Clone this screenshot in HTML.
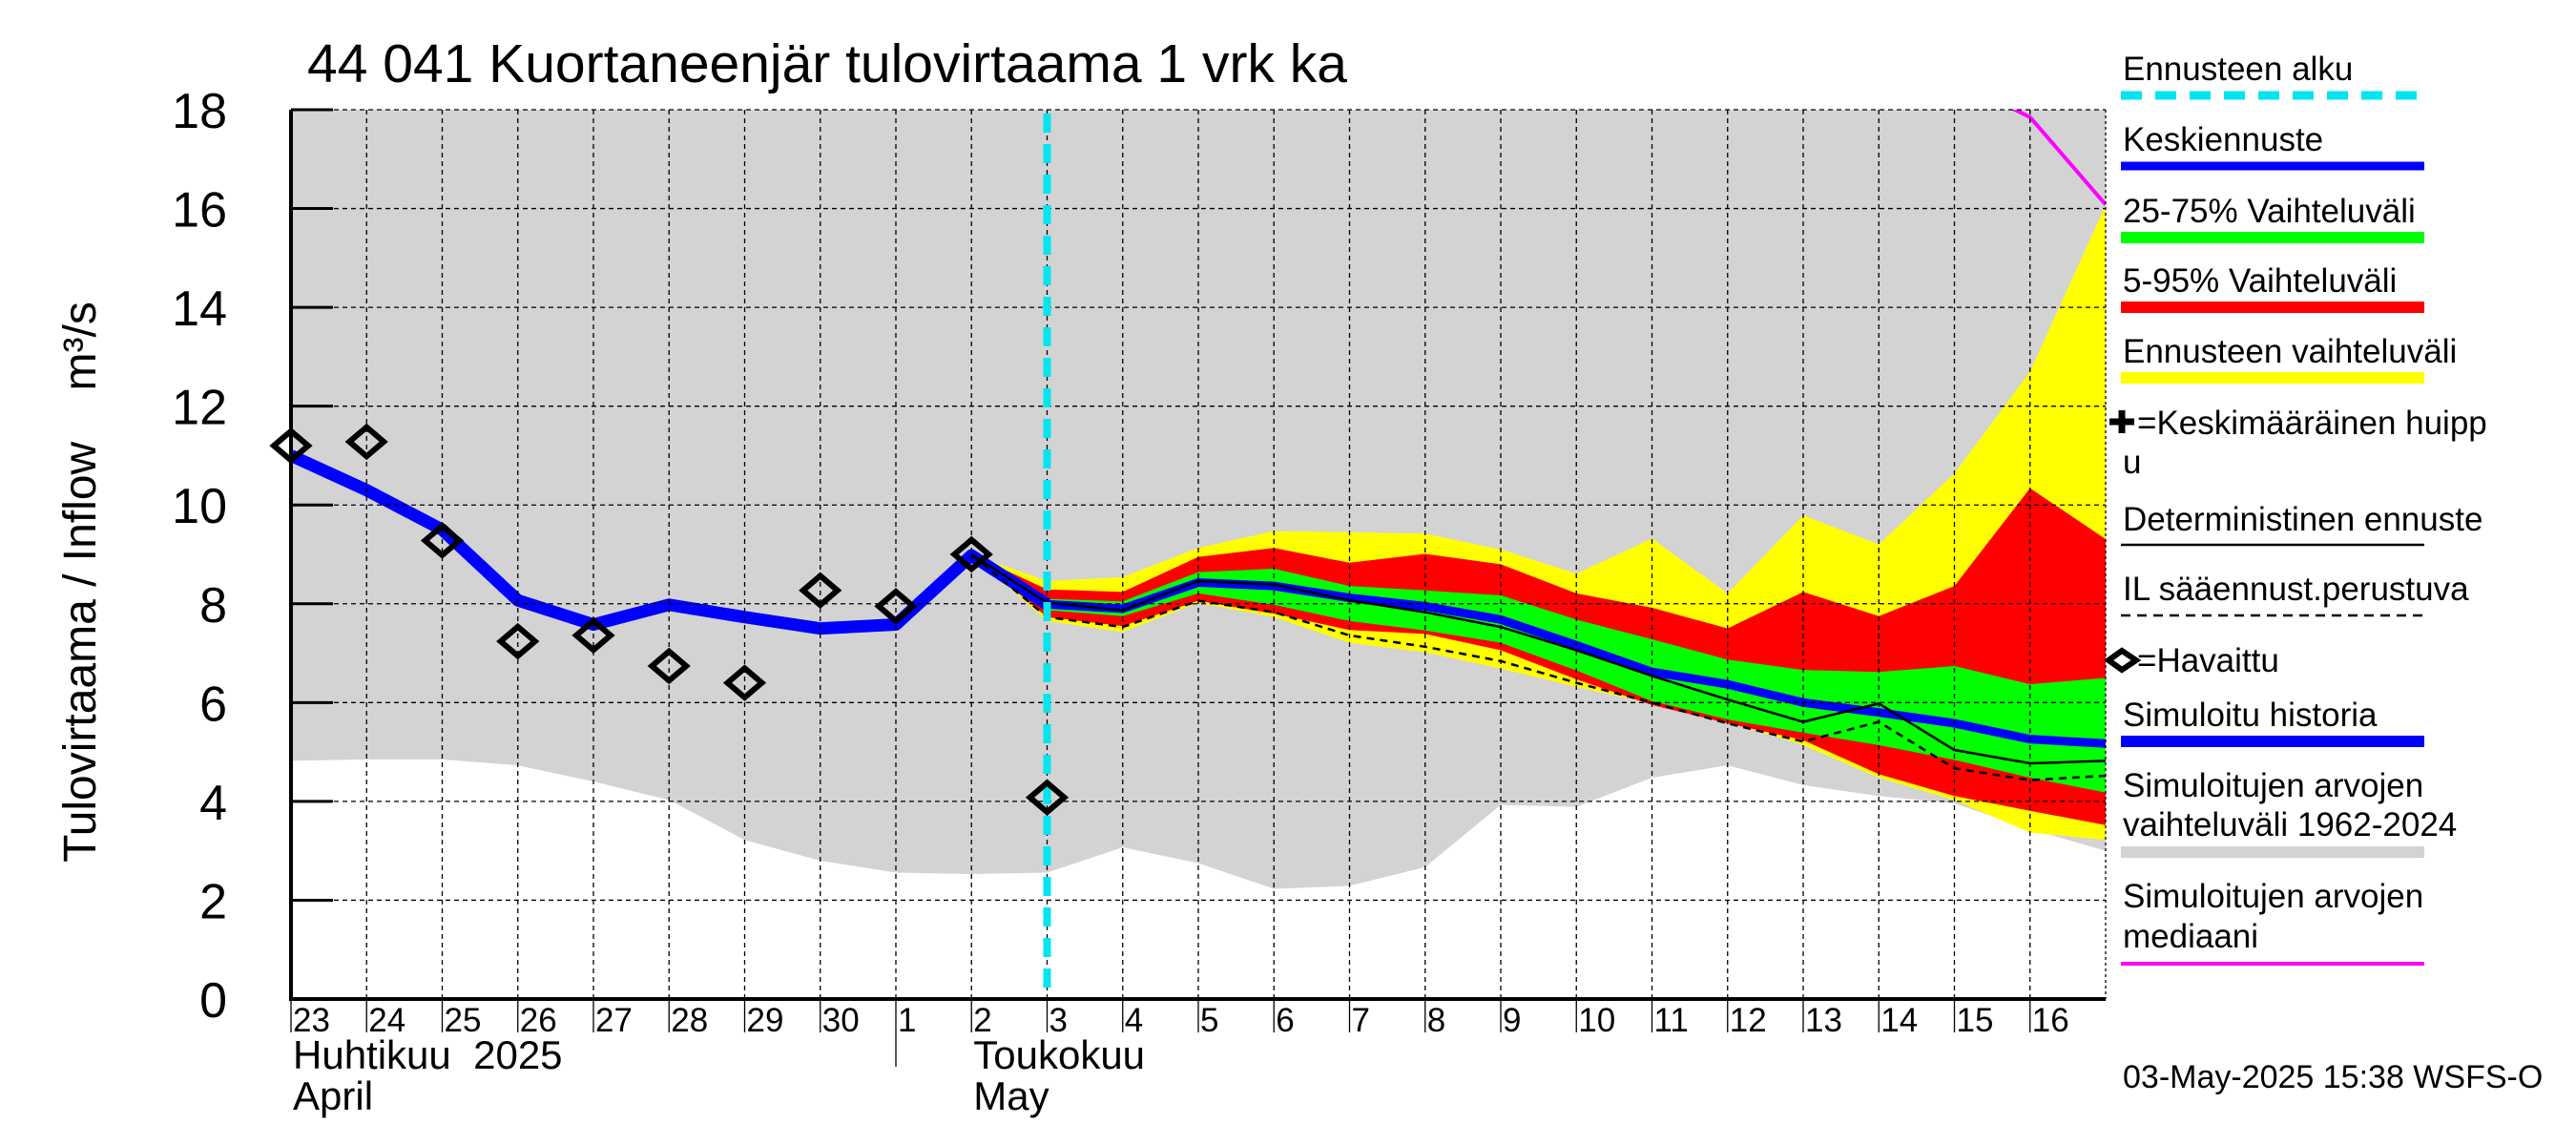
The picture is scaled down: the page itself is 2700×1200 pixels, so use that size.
<!DOCTYPE html>
<html><head><meta charset="utf-8">
<style>
html,body{margin:0;padding:0;background:#fff;}
svg{display:block;font-family:"Liberation Sans",sans-serif;}
</style></head>
<body>
<svg id="chart" xmlns="http://www.w3.org/2000/svg" width="2700" height="1200" viewBox="0 0 2700 1200">
<rect x="0" y="0" width="2700" height="1200" fill="#fff"/>
<g id="plot"></g>
<text x="322" y="86" font-size="57" fill="#000">44 041 Kuortaneenjär tulovirtaama 1 vrk ka</text>
<text transform="translate(100,610) rotate(-90)" text-anchor="middle" font-size="48" fill="#000" xml:space="preserve" style="white-space:pre">Tulovirtaama / Inflow    m³/s</text>
<g id="legend" font-size="35" fill="#000"></g>
<text x="2225" y="1140" font-size="34" fill="#000">03-May-2025 15:38 WSFS-O</text>
</svg>
<script>
// ---- data ----
const dayLabels = ["23","24","25","26","27","28","29","30","1","2","3","4","5","6","7","8","9","10","11","12","13","14","15","16"];
const yTicks = [0,2,4,6,8,10,12,14,16,18];
const simHistory = [11.0,10.3,9.5,8.07,7.58,7.98,7.73,7.5,7.58,8.98,7.99];
const observed = [11.2,11.28,9.28,7.24,7.36,6.74,6.4,8.27,7.95,9.0,4.08];
const histLow = [4.82,4.85,4.85,4.73,4.4,4.03,3.22,2.8,2.56,2.53,2.56,3.07,2.75,2.23,2.29,2.67,3.93,3.89,4.48,4.73,4.33,4.11,3.96,3.44,3.0];
const histHigh = [25,25,25,25,25,25,25,25,25,25,25,25,25,25,25,25,25,25,25,25,25,25,25,25,25];
const median = [22,22,22,22,22,22,22,22,22,22,22,22,22,22,22,22,22,21,21,20,20,19.5,18.6,17.85,16.08];
// forecast from day index 9
const fcStart = 9;
const yellowHi = [9.0,8.46,8.54,9.13,9.47,9.45,9.42,9.1,8.61,9.32,8.21,9.79,9.2,10.64,12.7,16.07];
const redHi    = [9.0,8.29,8.24,8.95,9.13,8.83,9.01,8.8,8.21,7.92,7.5,8.24,7.75,8.36,10.34,9.31];
const greenHi  = [9.0,8.1,8.05,8.64,8.71,8.36,8.27,8.17,7.68,7.28,6.87,6.66,6.62,6.74,6.37,6.5];
const fcMedian = [9.0,7.99,7.9,8.43,8.36,8.12,7.95,7.68,7.16,6.62,6.37,6.0,5.8,5.58,5.26,5.17];
const greenLo  = [9.0,7.87,7.75,8.21,7.98,7.65,7.46,7.21,6.65,6.03,5.66,5.39,5.14,4.84,4.48,4.18];
const redLo    = [9.0,7.73,7.55,8.06,7.8,7.47,7.39,7.06,6.47,5.95,5.58,5.24,4.55,4.11,3.81,3.52];
const yellowLo = [9.0,7.65,7.43,8.02,7.73,7.21,7.02,6.69,6.32,5.98,5.61,5.14,4.48,4.03,3.37,3.22];
const determ   = [9.0,8.02,7.87,8.46,8.39,8.07,7.83,7.53,7.06,6.54,6.06,5.61,5.98,5.04,4.77,4.82];
const ilFc     = [9.0,7.73,7.53,8.06,7.83,7.36,7.13,6.84,6.4,6.0,5.58,5.21,5.61,4.67,4.43,4.52];
const forecastDay = 10;

// ---- axes ----
const X0=305, X1=2207, Y0=1047, Y1=115, NDAYS=24;
const xs = d => X0 + d*(X1-X0)/NDAYS;
const ys = v => Y0 - v*(Y0-Y1)/18;
const NS="http://www.w3.org/2000/svg";
const plot=document.getElementById('plot');
function mk(tag,attrs,parent){const e=document.createElementNS(NS,tag);for(const k in attrs)e.setAttribute(k,attrs[k]);(parent||plot).appendChild(e);return e;}

const defs=mk('defs',{},document.getElementById('chart'));
const cp=mk('clipPath',{id:'clip'},defs);
mk('rect',{x:X0,y:Y1,width:X1-X0,height:Y0-Y1},cp);

const gc=mk('g',{'clip-path':'url(#clip)'});



function bandPath(hi,lo,off){
  let p='';
  hi.forEach((v,i)=>{p+=(i?'L':'M')+xs(i+off)+','+ys(v);});
  for(let i=lo.length-1;i>=0;i--)p+='L'+xs(i+off)+','+ys(lo[i]);
  return p+'Z';
}
function linePath(arr,off){return arr.map((v,i)=>(i?'L':'M')+xs(i+off)+','+ys(v)).join('');}

let e;
e=mk('path',{d:bandPath(histHigh,histLow,0),fill:'#d3d3d3'},gc);



// grid
for(let d=1;d<NDAYS;d++){
  e=mk('line',{x1:xs(d),x2:xs(d),y1:Y1,y2:Y0,stroke:'#000','stroke-width':1.3,'stroke-dasharray':'5,4'});
  
  
}
yTicks.forEach(v=>{ if(v===0) return;
  e=mk('line',{x1:X0,x2:X1,y1:ys(v),y2:ys(v),stroke:'#000','stroke-width':1.3,'stroke-dasharray':'5,4'});
  
  
});
e=mk('line',{x1:X1,x2:X1,y1:Y1,y2:Y0,stroke:'#000','stroke-width':1.3,'stroke-dasharray':'3,3'});



const bands=[[yellowHi,yellowLo,'#ffff00','forecast-range-band'],[redHi,redLo,'#ff0000','band-5-95'],[greenHi,greenLo,'#00ff00','band-25-75']];
bands.forEach(b=>{
  e=mk('path',{d:bandPath(b[0],b[1],fcStart),fill:b[2]},gc);
  
  
});
e=mk('path',{d:linePath(median,0),fill:'none',stroke:'#ff00ff','stroke-width':4},gc);


e=mk('path',{d:linePath(simHistory,0),fill:'none',stroke:'#0000ff','stroke-width':13,'stroke-linejoin':'round'},gc);


e=mk('path',{d:linePath(fcMedian,fcStart),fill:'none',stroke:'#0000ff','stroke-width':9},gc);


e=mk('path',{d:linePath(determ,fcStart),fill:'none',stroke:'#000','stroke-width':2.5},gc);


e=mk('path',{d:linePath(ilFc,fcStart),fill:'none',stroke:'#000','stroke-width':2.5,'stroke-dasharray':'8,6'},gc);



// forecast start
e=mk('line',{x1:xs(forecastDay),x2:xs(forecastDay),y1:Y1+4,y2:Y0,stroke:'#00e5ee','stroke-width':8,'stroke-dasharray':'20,12'});



// observed
observed.forEach((v,i)=>{
  const cx=xs(i),cy=ys(v),r=18;
  e=mk('path',{d:`M${cx-r},${cy}L${cx},${cy-r*0.85}L${cx+r},${cy}L${cx},${cy+r*0.85}Z`,fill:'none',stroke:'#000','stroke-width':6});
  
  
});

// axes
e=mk('line',{x1:X0,x2:X0,y1:Y1,y2:Y0+2,stroke:'#000','stroke-width':4});


e=mk('line',{x1:X0,x2:X1,y1:Y0,y2:Y0,stroke:'#000','stroke-width':4});


yTicks.forEach(v=>{
  e=mk('line',{x1:X0,x2:X0+44,y1:ys(v),y2:ys(v),stroke:'#000','stroke-width':3});
  
  
  e=mk('text',{x:238,y:ys(v)+19,'text-anchor':'end','font-size':52});
  e.textContent=v;
  
  
});
dayLabels.forEach((lab,d)=>{
  e=mk('line',{x1:xs(d),x2:xs(d),y1:Y0,y2:(d===8?1118:1082),stroke:'#000','stroke-width':1.3});
  
  
  e=mk('text',{x:xs(d)+2,y:1081,'font-size':35});
  e.textContent=lab;
  
  
});
[["Huhtikuu  2025",0,1120,'month-label-fi'],["April",0,1163,'month-label-en'],["Toukokuu",9,1120,'month-label-fi'],["May",9,1163,'month-label-en']].forEach(m=>{
  e=mk('text',{x:xs(m[1])+2,y:m[2],'font-size':42,style:'white-space:pre'});
  e.textContent=m[0];
  
  
});

// legend
const lg=document.getElementById('legend');
const LX1=2223, LX2=2541;
const legendItems=[
 {t:["Ennusteen alku"],b:[84],ly:100,c:'#00e5ee',w:9,dash:'22,14',n:'legend-forecast-start'},
 {t:["Keskiennuste"],b:[158],ly:174,c:'#0000ff',w:9,n:'legend-mean-forecast'},
 {t:["25-75% Vaihteluväli"],b:[233],ly:249,c:'#00ff00',w:12,n:'legend-25-75'},
 {t:["5-95% Vaihteluväli"],b:[306],ly:322,c:'#ff0000',w:12,n:'legend-5-95'},
 {t:["Ennusteen vaihteluväli"],b:[380],ly:396,c:'#ffff00',w:12,n:'legend-forecast-range'},
 {t:["=Keskimääräinen huipp","u"],b:[455,496],tx:[2240,2225],n:'legend-mean-peak'},
 {t:["Deterministinen ennuste"],b:[556],ly:571,c:'#000',w:2.5,n:'legend-deterministic'},
 {t:["IL sääennust.perustuva"],b:[629],ly:645,c:'#000',w:2.5,dash:'10,7',n:'legend-il-forecast'},
 {t:["=Havaittu"],b:[704],tx:[2240],n:'legend-observed'},
 {t:["Simuloitu historia"],b:[761],ly:777,c:'#0000ff',w:12,n:'legend-simulated-history'},
 {t:["Simuloitujen arvojen","vaihteluväli 1962-2024"],b:[835,876],ly:893,c:'#d3d3d3',w:12,n:'legend-historical-range'},
 {t:["Simuloitujen arvojen","mediaani"],b:[951,993],ly:1010,c:'#ff00ff',w:4,n:'legend-median'}
];
legendItems.forEach(it=>{
  const g=mk('g',{},lg);
  
  
  it.t.forEach((s,i)=>{
    const x=it.tx?it.tx[i]:2225;
    const t=mk('text',{x:x,y:it.b[i]},g);
    t.textContent=s;
  });
  if(it.ly){
    const a={x1:LX1,x2:LX2,y1:it.ly,y2:it.ly,stroke:it.c,'stroke-width':it.w};
    if(it.dash)a['stroke-dasharray']=it.dash;
    mk('line',a,g);
  }
});
// legend symbols
e=mk('path',{d:'M2211,442h26M2224,430v24',stroke:'#000','stroke-width':7,fill:'none'},lg);


e=mk('path',{d:'M2210,692L2224,682L2239,692L2224,702Z',stroke:'#000','stroke-width':6,fill:'none'},lg);


</script>
</body></html>
